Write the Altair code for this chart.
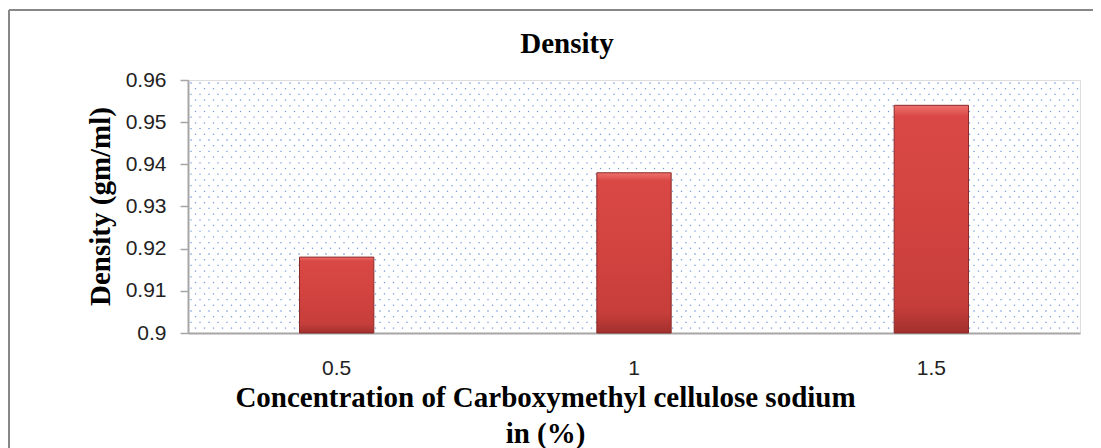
import altair as alt
import pandas as pd

concentrations = ["0.5", "1", "1.5"]
densities = [0.918, 0.938, 0.954]
y_ticks = [0.9, 0.91, 0.92, 0.93, 0.94, 0.95, 0.96]
y_base = 0.9

df = pd.DataFrame({"conc": concentrations, "density": densities})

W, H = 892, 253
SERIF = "Liberation Serif"
SANS = "Liberation Sans"

bar_grad = alt.Gradient(
    gradient="linear", x1=0, x2=0, y1=0, y2=1,
    stops=[
        alt.GradientStop(color="#ee716d", offset=0),
        alt.GradientStop(color="#d94845", offset=0.05),
        alt.GradientStop(color="#d2433f", offset=0.5),
        alt.GradientStop(color="#c63e3b", offset=0.88),
        alt.GradientStop(color="#a2302d", offset=1),
    ],
)

bars = alt.Chart(df).mark_bar(
    fill=bar_grad, stroke="#8a2a28", strokeWidth=1
).encode(
    x=alt.X("conc:N", sort=concentrations,
            scale=alt.Scale(paddingInner=0.75, paddingOuter=0.375),
            axis=alt.Axis(
                title=["Concentration of Carboxymethyl cellulose sodium", "in (%)"],
                titleFont=SERIF, titleFontSize=29, titleFontWeight="bold",
                titleColor="black", titleX=357, titleY=73,
                titleAlign="center", titleBaseline="alphabetic",
                titleLineHeight=36,
                labelFont=SANS, labelFontSize=21, labelColor="#222",
                labelAngle=0, labelPadding=24, ticks=False,
                domainColor="#a6a6a6", domainWidth=2)),
    y=alt.Y("density:Q",
            scale=alt.Scale(domain=[0.9, 0.96], nice=False, zero=False),
            axis=alt.Axis(
                title="Density (gm/ml)", values=y_ticks, format=".2~f",
                titleFont=SERIF, titleFontSize=29, titleFontWeight="bold",
                titleColor="black", titleX=-88, titleY=126,
                titleAlign="center", titleBaseline="middle",
                labelFont=SANS, labelFontSize=21, labelColor="#222",
                labelPadding=14, tickSize=8, tickColor="#a6a6a6",
                tickWidth=1.5, domainColor="#a6a6a6", domainWidth=2,
                grid=False)),
    y2=alt.Y2(datum=y_base),
)

dots = alt.Chart(alt.sequence(0, 100 * 45, as_="i")).transform_calculate(
    col="datum.i % 100",
    row="floor(datum.i / 100)",
).transform_calculate(
    px="datum.col * 9 + (datum.row % 2) * 4.5 + 3",
    py="datum.row * 5.7 + 3",
).transform_filter(
    "datum.px < 890 && datum.py < 251"
).mark_square(size=1.6, color="#5b8ad6", opacity=0.85).encode(
    x=alt.X("px:Q", scale=None, axis=None),
    y=alt.Y("py:Q", scale=None, axis=None),
)

border = alt.Chart(df).mark_rule(color="#878787", strokeWidth=2).encode(
    x=alt.value(-179), x2=alt.value(925), y=alt.value(-70)
)
border_left = alt.Chart(df).mark_rule(color="#878787", strokeWidth=2).encode(
    x=alt.value(-179), y=alt.value(-70), y2=alt.value(380)
)

chart = alt.layer(dots, bars, border, border_left).resolve_scale(
    x="independent", y="independent"
).properties(
    width=W, height=H,
    title=alt.TitleParams(
        "Density", font=SERIF, fontSize=29, fontWeight="bold", color="black",
        anchor="middle", dx=-67, dy=73, baseline="alphabetic", offset=0),
    autosize=alt.AutoSizeParams(type="none"),
    padding={"left": 180, "top": 72, "right": 13, "bottom": 115},
).configure_view(stroke=None, fill="white").configure(background="white")

chart.save("out.html", embed_options={"renderer": "svg", "actions": False})
